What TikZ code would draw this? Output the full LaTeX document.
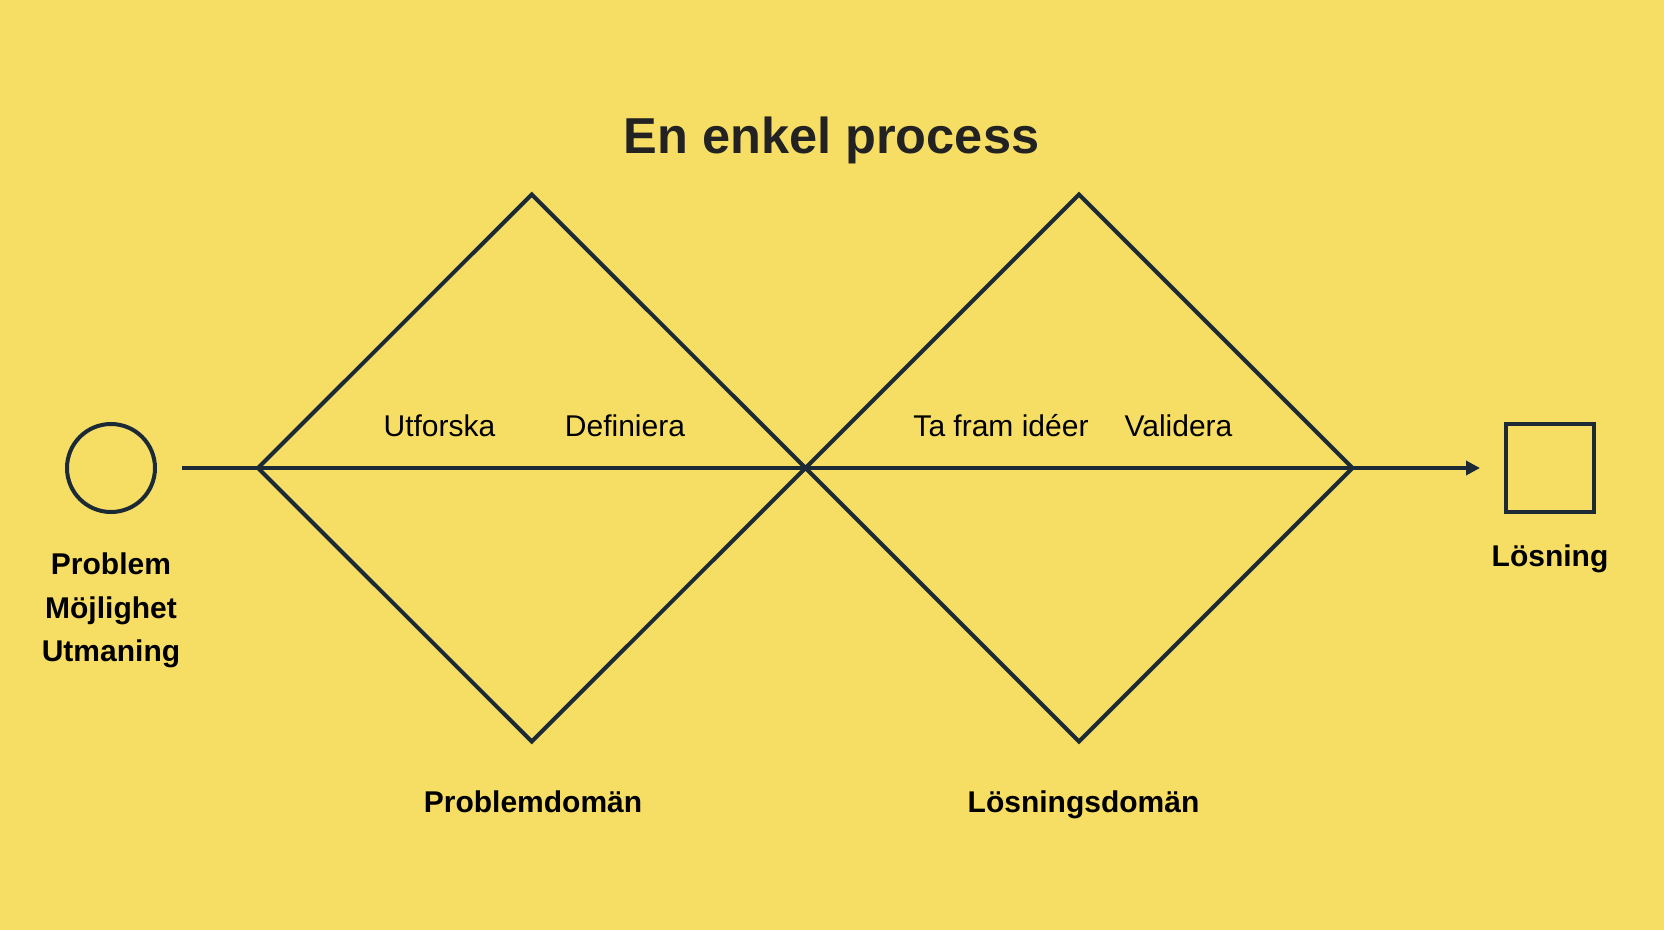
\documentclass[tikz,border=0pt]{standalone}
\usepackage{fontspec}
\setmainfont{Liberation Sans}
\usetikzlibrary{arrows.meta}
\definecolor{bg}{HTML}{F6DE65}
\definecolor{ink}{HTML}{1B2A35}
\definecolor{titlecol}{HTML}{222222}
\begin{document}
\begin{tikzpicture}[x=1pt,y=-1pt,
  shape line/.style={draw=ink,line width=4pt},
  lbl/.style={anchor=base,inner sep=0pt,text=black,font=\fontsize{30}{36}\selectfont},
  blbl/.style={lbl,font=\fontsize{30}{36}\selectfont\bfseries},
  ttl/.style={anchor=base,inner sep=0pt,text=titlecol,font=\fontsize{50.5}{60}\selectfont\bfseries}]
\fill[bg] (0,0) rectangle (1664,930);
\useasboundingbox (0,0) rectangle (1664,930);
% title
\node[ttl] (title) at (831.5,153) {En enkel process};
% start circle
\node[shape line,circle,minimum size=88pt,inner sep=0pt] (start) at (111,468) {};
% diamond vertices
\coordinate (s) at (182,468);
\coordinate (d1l) at (258,468);
\coordinate (d1t) at (531.7,194.5);
\coordinate (d1b) at (531.7,741.5);
\coordinate (mid) at (805.5,468);
\coordinate (d2t) at (1079,194.5);
\coordinate (d2b) at (1079,741.5);
\coordinate (d2r) at (1352.5,468);
\coordinate (e) at (1480,468);
% end square
\node[shape line,rectangle,minimum size=88pt,inner sep=0pt] (goal) at (1550,468) {};
% diamonds
\draw[shape line,line join=miter] (d1l) -- (d1t) -- (mid) -- (d2t) -- (d2r) -- (d2b) -- (mid) -- (d1b) -- cycle;
% main line
\draw[shape line,-{Triangle[length=14pt,width=14pt]}] (s) -- (d1l) -- (mid) -- (d2r) -- (e);
% labels
\node[blbl] (l1) at (111,574) {Problem};
\node[blbl] (l2) at (111,618) {Möjlighet};
\node[blbl] (l3) at (111,661) {Utmaning};
\node[blbl] (l4) at (1550,566) {Lösning};
\node[lbl] (u1) at (439.5,436) {Utforska};
\node[lbl] (u2) at (625,436) {Definiera};
\node[lbl] (u3) at (1001,436) {Ta fram idéer};
\node[lbl] (u4) at (1178.5,436) {Validera};
\node[blbl] (p1) at (533,812) {Problemdomän};
\node[blbl] (p2) at (1083.5,812) {Lösningsdomän};
\end{tikzpicture}
\end{document}
